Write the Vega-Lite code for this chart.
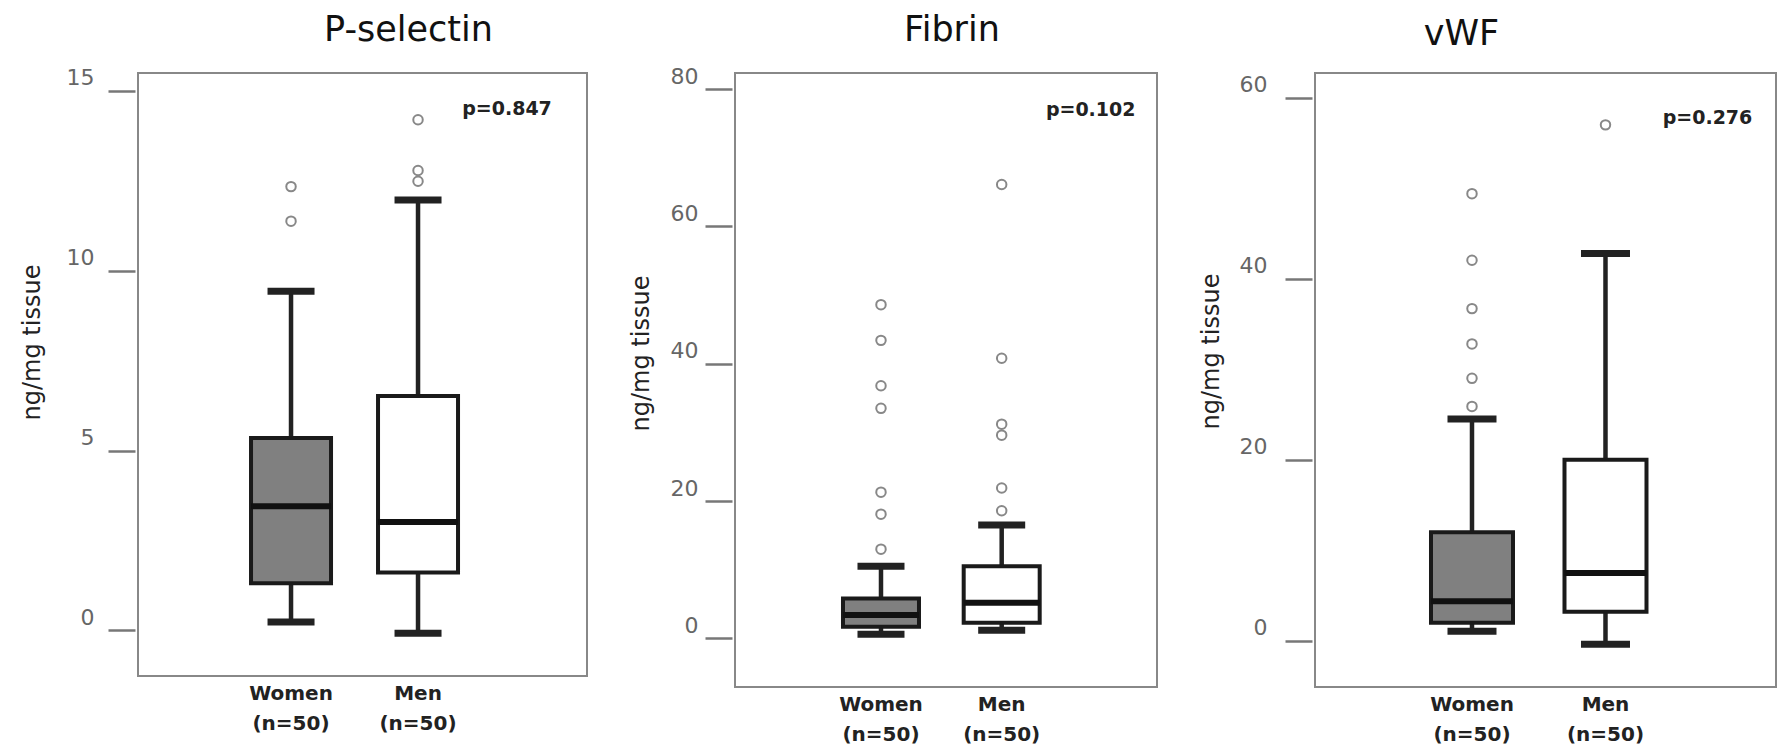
{
  "$schema": "https://vega.github.io/schema/vega-lite/v6.json",
  "background": "white",
  "padding": {"left": 19, "top": 11, "right": 0, "bottom": 0},
  "spacing": 40,
  "datasets": {
    "boxes": [
      {"panel": "P-selectin", "group": "Women", "lower": 0.23, "q1": 1.31, "median": 3.45, "q3": 5.35, "upper": 9.43},
      {"panel": "P-selectin", "group": "Men", "lower": -0.08, "q1": 1.61, "median": 3.01, "q3": 6.52, "upper": 11.97},
      {"panel": "Fibrin", "group": "Women", "lower": 0.6, "q1": 1.7, "median": 3.4, "q3": 5.8, "upper": 10.5},
      {"panel": "Fibrin", "group": "Men", "lower": 1.2, "q1": 2.3, "median": 5.2, "q3": 10.5, "upper": 16.5},
      {"panel": "vWF", "group": "Women", "lower": 1.05, "q1": 2.0, "median": 4.37, "q3": 12.0, "upper": 24.5},
      {"panel": "vWF", "group": "Men", "lower": -0.37, "q1": 3.2, "median": 7.5, "q3": 20.0, "upper": 42.8}
    ],
    "outliers": [
      {"panel": "P-selectin", "group": "Women", "value": 12.34},
      {"panel": "P-selectin", "group": "Women", "value": 11.38},
      {"panel": "P-selectin", "group": "Men", "value": 14.2},
      {"panel": "P-selectin", "group": "Men", "value": 12.79},
      {"panel": "P-selectin", "group": "Men", "value": 12.49},
      {"panel": "Fibrin", "group": "Women", "value": 48.6},
      {"panel": "Fibrin", "group": "Women", "value": 43.4},
      {"panel": "Fibrin", "group": "Women", "value": 36.8},
      {"panel": "Fibrin", "group": "Women", "value": 33.5},
      {"panel": "Fibrin", "group": "Women", "value": 21.3},
      {"panel": "Fibrin", "group": "Women", "value": 18.1},
      {"panel": "Fibrin", "group": "Women", "value": 13.0},
      {"panel": "Fibrin", "group": "Men", "value": 66.1},
      {"panel": "Fibrin", "group": "Men", "value": 40.8},
      {"panel": "Fibrin", "group": "Men", "value": 31.2},
      {"panel": "Fibrin", "group": "Men", "value": 29.6},
      {"panel": "Fibrin", "group": "Men", "value": 21.9},
      {"panel": "Fibrin", "group": "Men", "value": 18.6},
      {"panel": "vWF", "group": "Women", "value": 49.4},
      {"panel": "vWF", "group": "Women", "value": 42.05},
      {"panel": "vWF", "group": "Women", "value": 36.7},
      {"panel": "vWF", "group": "Women", "value": 32.8},
      {"panel": "vWF", "group": "Women", "value": 29.0},
      {"panel": "vWF", "group": "Women", "value": 25.9},
      {"panel": "vWF", "group": "Men", "value": 57.0}
    ],
    "pvals": [
      {"panel": "P-selectin", "group": "Men", "label": "p=0.847", "value": 14.5},
      {"panel": "Fibrin", "group": "Men", "label": "p=0.102", "value": 77.0},
      {"panel": "vWF", "group": "Men", "label": "p=0.276", "value": 57.8}
    ]
  },
  "config": {
    "font": "DejaVu Sans",
    "view": {"stroke": "#888888", "strokeWidth": 2},
    "title": {"fontSize": 35, "fontWeight": "normal", "color": "#111111", "anchor": "middle", "font": "DejaVu Sans", "offset": 19},
    "axisY": {
      "domain": false, "grid": false, "tickSize": 27, "tickWidth": 2.5, "tickColor": "#777777", "offset": 3,
      "labelFontSize": 22, "labelColor": "#666666", "labelPadding": 14, "labelOffset": -13,
      "titleFontSize": 24, "titleFontWeight": "normal", "titleColor": "#222222", "titlePadding": 22
    },
    "axisX": {
      "domain": false, "grid": false, "ticks": false, "labelAngle": 0, "labelFontSize": 20, "labelFontWeight": "bold",
      "labelColor": "#222222", "labelPadding": 7, "labelLineHeight": 30, "labelBaseline": "top"
    }
  },
  "hconcat": [
    {
      "width": 449, "height": 603,
      "title": {"text": "P-selectin", "dx": 46},
      "encoding": {
        "x": {"field": "group", "type": "nominal", "sort": ["Women", "Men"], "title": null,
              "scale": {"type": "band", "paddingInner": 0.4646, "paddingOuter": 1, "align": 0.4686},
              "axis": {"labelExpr": "[datum.label, '(n=50)']"}}
      },
      "layer": [
        {"data": {"name": "boxes"}, "transform": [{"filter": "datum.panel === 'P-selectin'"}],
         "mark": {"type": "rule", "strokeWidth": 4.5, "color": "#222222"},
         "encoding": {"y": {"field": "lower", "type": "quantitative", "title": "ng/mg tissue",
                            "scale": {"domain": [-1.27, 15.5], "nice": false, "zero": false},
                            "axis": {"values": [0, 5, 10, 15], "titleY": 269}},
                      "y2": {"field": "upper"}}},
        {"data": {"name": "boxes"}, "transform": [{"filter": "datum.panel === 'P-selectin'"}],
         "mark": {"type": "bar", "width": 80, "stroke": "#1a1a1a", "strokeWidth": 4},
         "encoding": {"y": {"field": "q1", "type": "quantitative"}, "y2": {"field": "q3"},
                      "fill": {"field": "group", "type": "nominal", "scale": {"domain": ["Women", "Men"], "range": ["#808080", "#ffffff"]}, "legend": null}}},
        {"data": {"name": "boxes"}, "transform": [{"filter": "datum.panel === 'P-selectin'"}],
         "mark": {"type": "tick", "orient": "horizontal", "size": 80, "thickness": 6, "color": "#111111", "opacity": 1},
         "encoding": {"y": {"field": "median", "type": "quantitative"}}},
        {"data": {"name": "boxes"}, "transform": [{"filter": "datum.panel === 'P-selectin'"}],
         "mark": {"type": "tick", "orient": "horizontal", "size": 47, "thickness": 7, "color": "#222222", "opacity": 1},
         "encoding": {"y": {"field": "lower", "type": "quantitative"}}},
        {"data": {"name": "boxes"}, "transform": [{"filter": "datum.panel === 'P-selectin'"}],
         "mark": {"type": "tick", "orient": "horizontal", "size": 47, "thickness": 7, "color": "#222222", "opacity": 1},
         "encoding": {"y": {"field": "upper", "type": "quantitative"}}},
        {"data": {"name": "outliers"}, "transform": [{"filter": "datum.panel === 'P-selectin'"}],
         "mark": {"type": "point", "shape": "circle", "filled": false, "size": 90, "stroke": "#888888", "strokeWidth": 2, "opacity": 1},
         "encoding": {"y": {"field": "value", "type": "quantitative"}}},
        {"data": {"name": "pvals"}, "transform": [{"filter": "datum.panel === 'P-selectin'"}],
         "mark": {"type": "text", "fontWeight": "bold", "fontSize": 19, "color": "#222222", "dx": 89, "align": "center", "baseline": "middle"},
         "encoding": {"y": {"field": "value", "type": "quantitative"}, "text": {"field": "label"}}}
      ]
    },
    {
      "width": 422, "height": 614,
      "title": {"text": "Fibrin", "dx": 6, "offset": 17},
      "encoding": {
        "x": {"field": "group", "type": "nominal", "sort": ["Women", "Men"], "title": null,
              "scale": {"type": "band", "paddingInner": 0.5037, "paddingOuter": 1, "align": 0.4807},
              "axis": {"labelExpr": "[datum.label, '(n=50)']"}}
      },
      "layer": [
        {"data": {"name": "boxes"}, "transform": [{"filter": "datum.panel === 'Fibrin'"}],
         "mark": {"type": "rule", "strokeWidth": 4.5, "color": "#222222"},
         "encoding": {"y": {"field": "lower", "type": "quantitative", "title": "ng/mg tissue",
                            "scale": {"domain": [-7.07, 82.33], "nice": false, "zero": false},
                            "axis": {"values": [0, 20, 40, 60, 80], "labelPadding": 7, "titlePadding": 17, "titleY": 280}},
                      "y2": {"field": "upper"}}},
        {"data": {"name": "boxes"}, "transform": [{"filter": "datum.panel === 'Fibrin'"}],
         "mark": {"type": "bar", "width": 76, "stroke": "#1a1a1a", "strokeWidth": 4},
         "encoding": {"y": {"field": "q1", "type": "quantitative"}, "y2": {"field": "q3"},
                      "fill": {"field": "group", "type": "nominal", "scale": {"domain": ["Women", "Men"], "range": ["#808080", "#ffffff"]}, "legend": null}}},
        {"data": {"name": "boxes"}, "transform": [{"filter": "datum.panel === 'Fibrin'"}],
         "mark": {"type": "tick", "orient": "horizontal", "size": 76, "thickness": 6, "color": "#111111", "opacity": 1},
         "encoding": {"y": {"field": "median", "type": "quantitative"}}},
        {"data": {"name": "boxes"}, "transform": [{"filter": "datum.panel === 'Fibrin'"}],
         "mark": {"type": "tick", "orient": "horizontal", "size": 47, "thickness": 7, "color": "#222222", "opacity": 1},
         "encoding": {"y": {"field": "lower", "type": "quantitative"}}},
        {"data": {"name": "boxes"}, "transform": [{"filter": "datum.panel === 'Fibrin'"}],
         "mark": {"type": "tick", "orient": "horizontal", "size": 47, "thickness": 7, "color": "#222222", "opacity": 1},
         "encoding": {"y": {"field": "upper", "type": "quantitative"}}},
        {"data": {"name": "outliers"}, "transform": [{"filter": "datum.panel === 'Fibrin'"}],
         "mark": {"type": "point", "shape": "circle", "filled": false, "size": 90, "stroke": "#888888", "strokeWidth": 2, "opacity": 1},
         "encoding": {"y": {"field": "value", "type": "quantitative"}}},
        {"data": {"name": "pvals"}, "transform": [{"filter": "datum.panel === 'Fibrin'"}],
         "mark": {"type": "text", "fontWeight": "bold", "fontSize": 19, "color": "#222222", "dx": 89, "align": "center", "baseline": "middle"},
         "encoding": {"y": {"field": "value", "type": "quantitative"}, "text": {"field": "label"}}}
      ]
    },
    {
      "width": 461, "height": 614,
      "title": {"text": "vWF", "dx": -84, "offset": 21},
      "encoding": {
        "x": {"field": "group", "type": "nominal", "sort": ["Women", "Men"], "title": null,
              "scale": {"type": "band", "paddingInner": 0.5468, "paddingOuter": 1, "align": 0.4747},
              "axis": {"labelExpr": "[datum.label, '(n=50)']"}}
      },
      "layer": [
        {"data": {"name": "boxes"}, "transform": [{"filter": "datum.panel === 'vWF'"}],
         "mark": {"type": "rule", "strokeWidth": 4.5, "color": "#222222"},
         "encoding": {"y": {"field": "lower", "type": "quantitative", "title": "ng/mg tissue",
                            "scale": {"domain": [-5.1, 62.73], "nice": false, "zero": false},
                            "axis": {"values": [0, 20, 40, 60], "labelPadding": 18, "titlePadding": 16, "titleY": 278}},
                      "y2": {"field": "upper"}}},
        {"data": {"name": "boxes"}, "transform": [{"filter": "datum.panel === 'vWF'"}],
         "mark": {"type": "bar", "width": 82, "stroke": "#1a1a1a", "strokeWidth": 4},
         "encoding": {"y": {"field": "q1", "type": "quantitative"}, "y2": {"field": "q3"},
                      "fill": {"field": "group", "type": "nominal", "scale": {"domain": ["Women", "Men"], "range": ["#808080", "#ffffff"]}, "legend": null}}},
        {"data": {"name": "boxes"}, "transform": [{"filter": "datum.panel === 'vWF'"}],
         "mark": {"type": "tick", "orient": "horizontal", "size": 82, "thickness": 6, "color": "#111111", "opacity": 1},
         "encoding": {"y": {"field": "median", "type": "quantitative"}}},
        {"data": {"name": "boxes"}, "transform": [{"filter": "datum.panel === 'vWF'"}],
         "mark": {"type": "tick", "orient": "horizontal", "size": 49, "thickness": 7, "color": "#222222", "opacity": 1},
         "encoding": {"y": {"field": "lower", "type": "quantitative"}}},
        {"data": {"name": "boxes"}, "transform": [{"filter": "datum.panel === 'vWF'"}],
         "mark": {"type": "tick", "orient": "horizontal", "size": 49, "thickness": 7, "color": "#222222", "opacity": 1},
         "encoding": {"y": {"field": "upper", "type": "quantitative"}}},
        {"data": {"name": "outliers"}, "transform": [{"filter": "datum.panel === 'vWF'"}],
         "mark": {"type": "point", "shape": "circle", "filled": false, "size": 90, "stroke": "#888888", "strokeWidth": 2, "opacity": 1},
         "encoding": {"y": {"field": "value", "type": "quantitative"}}},
        {"data": {"name": "pvals"}, "transform": [{"filter": "datum.panel === 'vWF'"}],
         "mark": {"type": "text", "fontWeight": "bold", "fontSize": 19, "color": "#222222", "dx": 102, "align": "center", "baseline": "middle"},
         "encoding": {"y": {"field": "value", "type": "quantitative"}, "text": {"field": "label"}}}
      ]
    }
  ]
}
